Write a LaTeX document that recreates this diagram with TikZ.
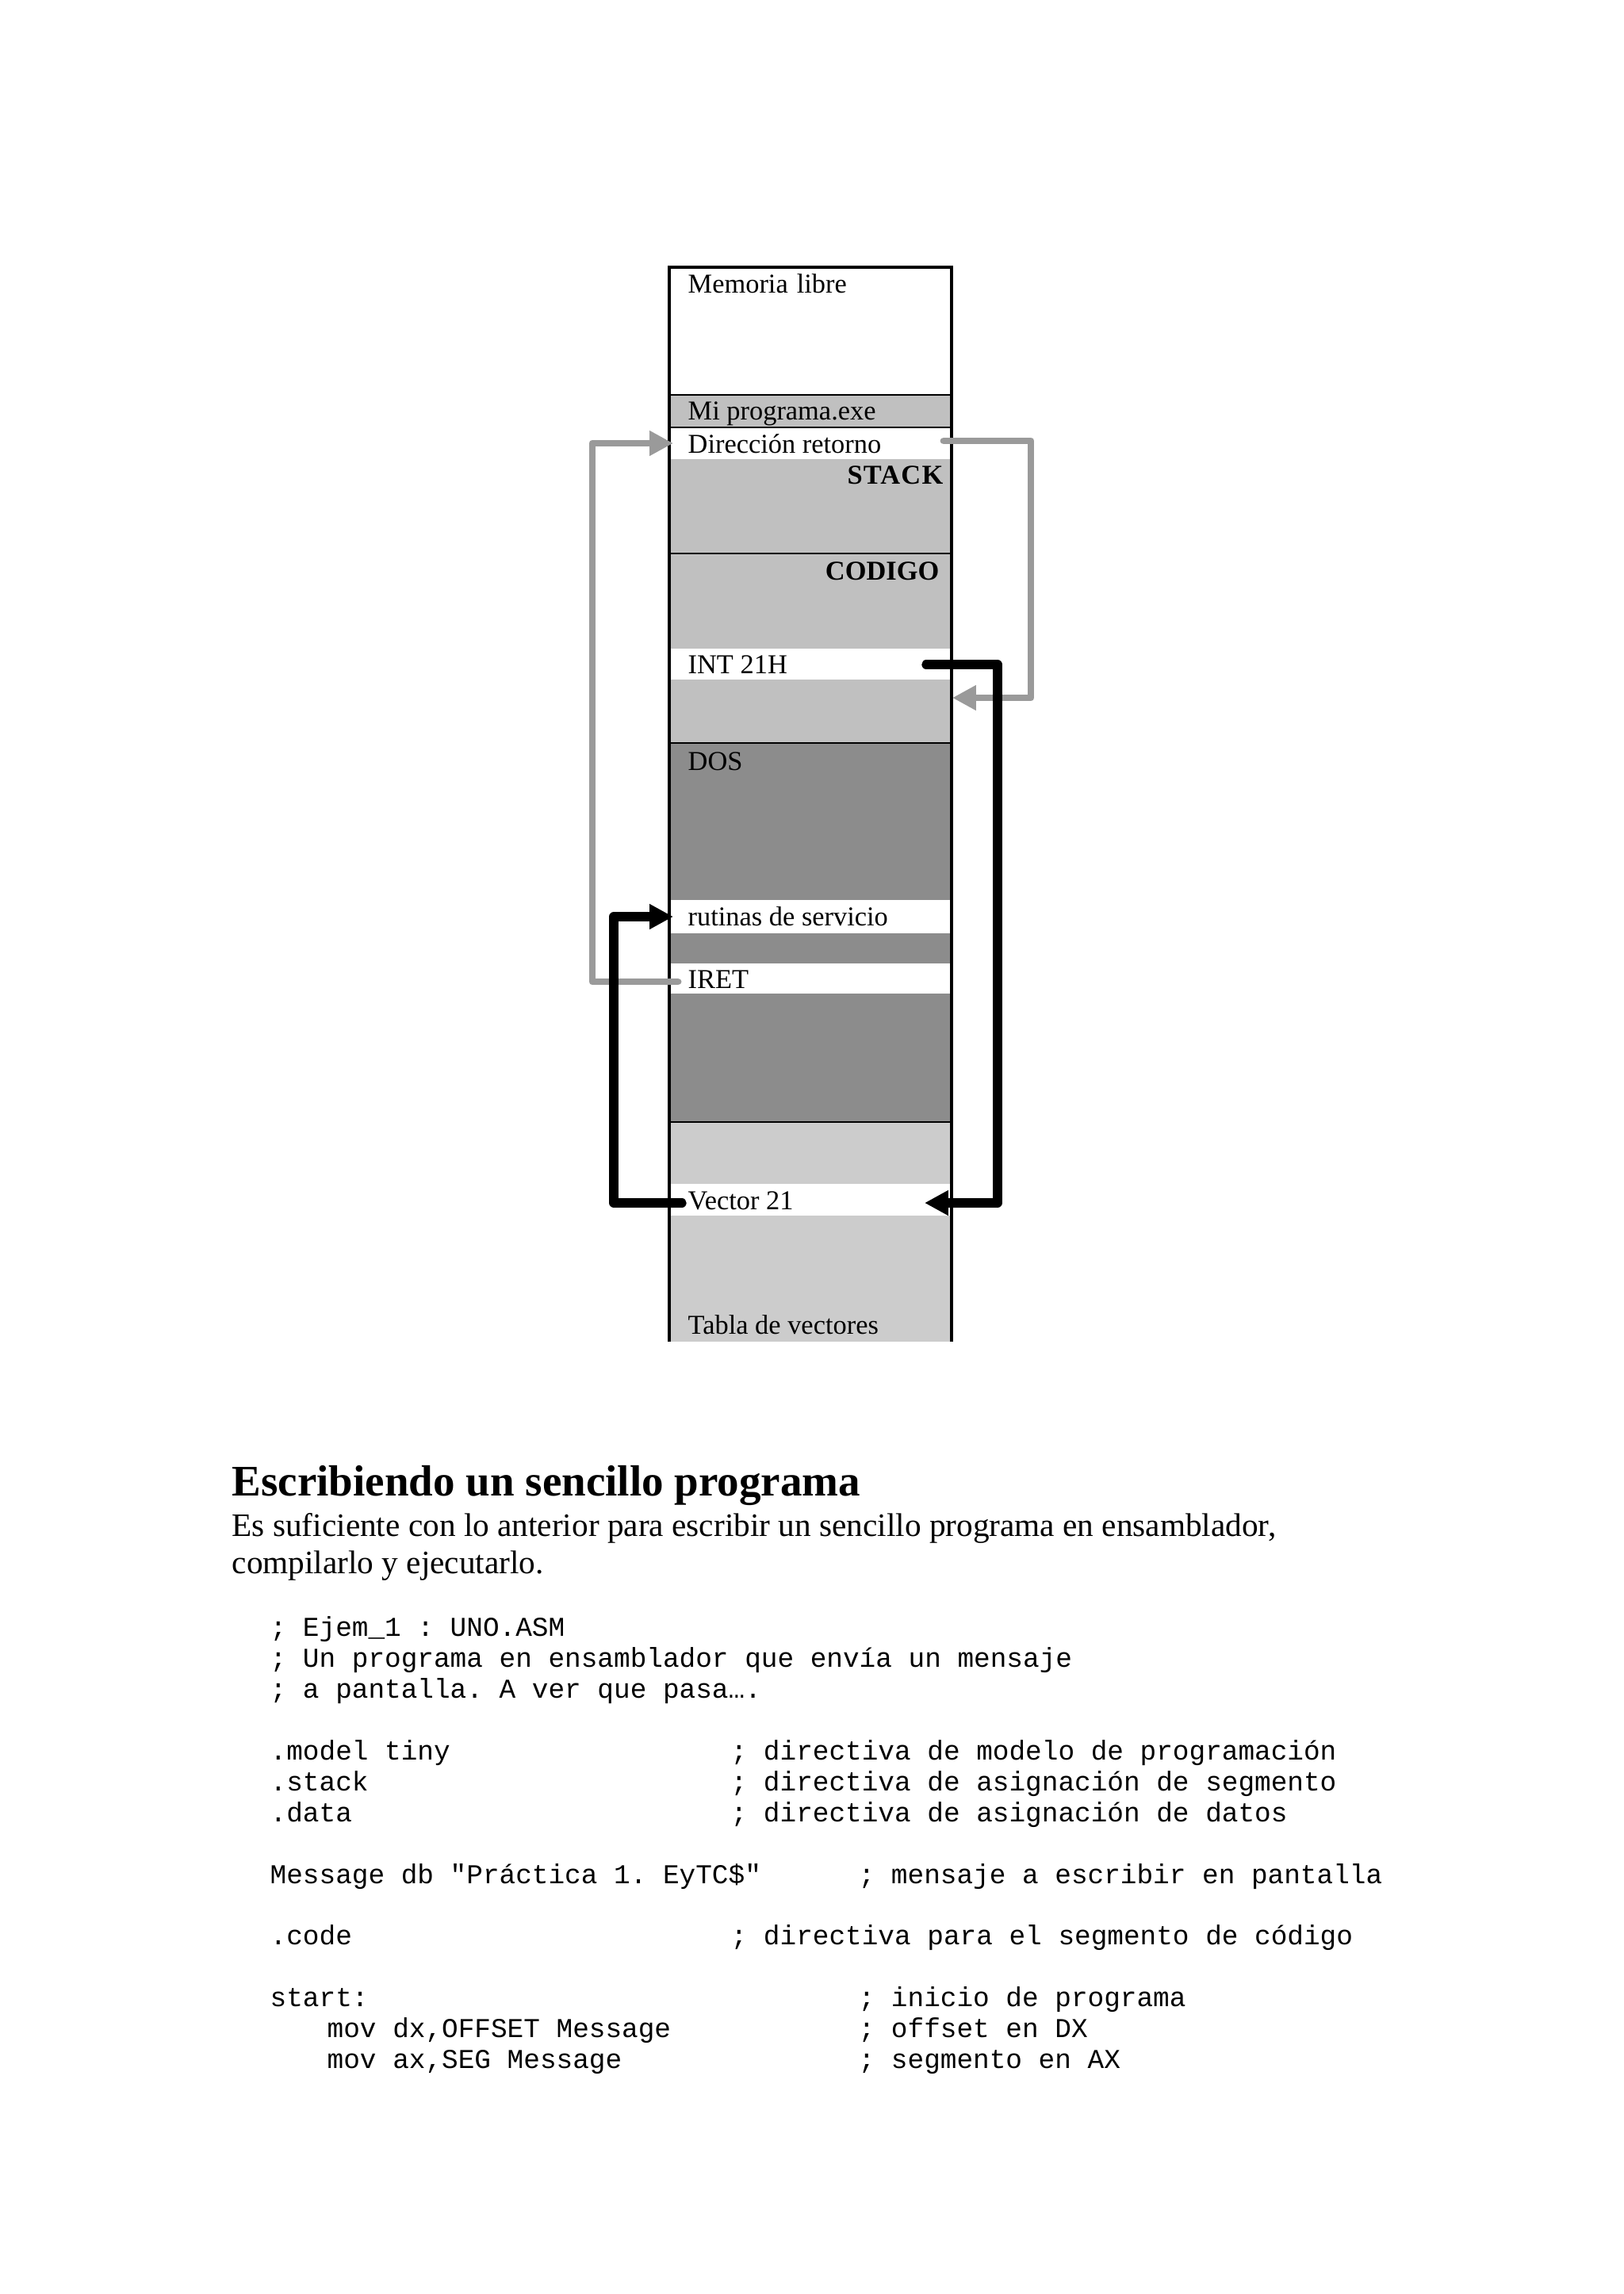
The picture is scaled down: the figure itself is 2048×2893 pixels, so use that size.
\documentclass[tikz,border=0pt]{standalone}
\usepackage{fontspec}
\setmainfont{Liberation Serif}
\setmonofont{Liberation Mono}
\usetikzlibrary{arrows.meta}

\definecolor{segGris}{HTML}{C0C0C0}
\definecolor{dosGris}{HTML}{8C8C8C}
\definecolor{tablaGris}{HTML}{CCCCCC}
\definecolor{flechaGris}{HTML}{9A9A9A}

\tikzset{
  fila/.style={anchor=base west, inner sep=0pt, font=\fontsize{10}{12}\selectfont},
  segmento/.style={anchor=base east, inner sep=0pt, font=\fontsize{10}{12}\selectfont\bfseries},
  codigo/.style={anchor=base west, inner sep=0pt, font=\fontsize{10}{11}\selectfont\ttfamily},
  texto/.style={anchor=base west, inner sep=0pt, font=\fontsize{12}{14}\selectfont},
  flecha gris/.style={draw=flechaGris, line width=2.6pt, line cap=round, line join=round,
    -{Triangle[length=8.7pt,width=8.7pt]}},
  flecha negra/.style={draw=black, line width=3.3pt, line cap=round, line join=round,
    -{Triangle[length=8.7pt,width=8.7pt]}},
}

\begin{document}
\begin{tikzpicture}[x=0.2907pt,y=0.2907pt,yscale=-1,xscale=1]
\path[use as bounding box] (0,0) rectangle (2048,2893);

% Bands of the memory map
\foreach \ya/\yb/\col in {337/498/white, 498/539/segGris, 539/579/white, 579/818/segGris,
  818/857/white, 857/937/segGris, 937/1135/dosGris, 1135/1177/white, 1177/1215/dosGris,
  1215/1253/white, 1253/1415/dosGris, 1415/1493/tablaGris, 1493/1533/white, 1533/1692/tablaGris}
  \fill[\col] (844,\ya) rectangle (1200,\yb);
% Dividers
\foreach \y in {498,539,698,937,1415}
  \draw[line width=0.8pt] (844,\y) -- (1200,\y);
% Outline
\draw[line width=0.9pt] (844,1692) -- (844,337) -- (1200,337) -- (1200,1692);

% Text Node
\node[fila] (libre) at (867,369) {Memoria\hspace{3.2pt}libre};
% Text Node
\node[fila] (exe) at (867,529) {Mi programa.exe};
% Text Node
\node[fila] (retorno) at (867,571) {Dirección retorno};
% Text Node
\node[segmento] (pila) at (1190,610) {\addfontfeatures{LetterSpace=3.5}STACK};
% Text Node
\node[segmento] (codseg) at (1185,731) {CODIGO};
% Text Node
\node[fila] (int) at (867,849) {INT 21H};
% Text Node
\node[fila] (dos) at (867,971) {DOS};
% Text Node
\node[fila] (rutinas) at (867,1167) {rutinas de servicio};
% Text Node
\node[fila] (iret) at (867,1246) {IRET};
% Text Node
\node[fila] (vector) at (867,1525) {Vector 21};
% Text Node
\node[fila] (tabla) at (867,1682) {Tabla de vectores};

% Arrow ends
\coordinate (iretIzq) at (855,1238);
\coordinate (retIzq) at (849,559);
\coordinate (retDer) at (1190,556);
\coordinate (pilaDer) at (1201,880);
\coordinate (intDer) at (1168,838);
\coordinate (vecDer) at (1166,1517);
\coordinate (vecIzq) at (860,1517);
\coordinate (rutIzq) at (849,1156);

% Connection
\draw[flecha gris] (iretIzq) -- ++(-108,0) |- (retIzq);
% Connection
\draw[flecha gris] (retDer) -- ++(110,0) |- (pilaDer);
% Connection
\draw[flecha negra] (intDer) -- ++(90,0) |- (vecDer);
% Connection
\draw[flecha negra] (vecIzq) -- ++(-86,0) |- (rutIzq);

% Text Node
\node[anchor=base west, inner sep=0pt, font=\fontsize{16}{19}\selectfont\bfseries] (titulo) at (292,1886) {Escribiendo un sencillo programa};
% Text Node
\node[texto] (parrafo1) at (292,1937) {Es suficiente con lo anterior para escribir un sencillo programa en ensamblador,};
% Text Node
\node[texto] (parrafo2) at (292,1984) {compilarlo y ejecutarlo.};

% Code lines
\node[codigo] (c1) at (340,2063) {; Ejem\_1 : UNO.ASM};
\node[codigo] (c2) at (340,2102) {; Un programa en ensamblador que envía un mensaje};
\node[codigo] (c3) at (340,2141) {; a pantalla. A ver que pasa….};
\node[codigo] (c4) at (340,2219) {.model tiny};
\node[codigo] (k4) at (921,2219) {; directiva de modelo de programación};
\node[codigo] (c5) at (340,2258) {.stack};
\node[codigo] (k5) at (921,2258) {; directiva de asignación de segmento};
\node[codigo] (c6) at (340,2297) {.data};
\node[codigo] (k6) at (921,2297) {; directiva de asignación de datos};
\node[codigo] (c7) at (340,2375) {Message db "Práctica 1. EyTC\$"};
\node[codigo] (k7) at (1082,2375) {; mensaje a escribir en pantalla};
\node[codigo] (c8) at (340,2452) {.code};
\node[codigo] (k8) at (921,2452) {; directiva para el segmento de código};
\node[codigo] (c9) at (340,2530) {start:};
\node[codigo] (k9) at (1082,2530) {; inicio de programa};
\node[codigo] (c10) at (412,2569) {mov dx,OFFSET Message};
\node[codigo] (k10) at (1082,2569) {; offset en DX};
\node[codigo] (c11) at (412,2608) {mov ax,SEG Message};
\node[codigo] (k11) at (1082,2608) {; segmento en AX};

\end{tikzpicture}
\end{document}
